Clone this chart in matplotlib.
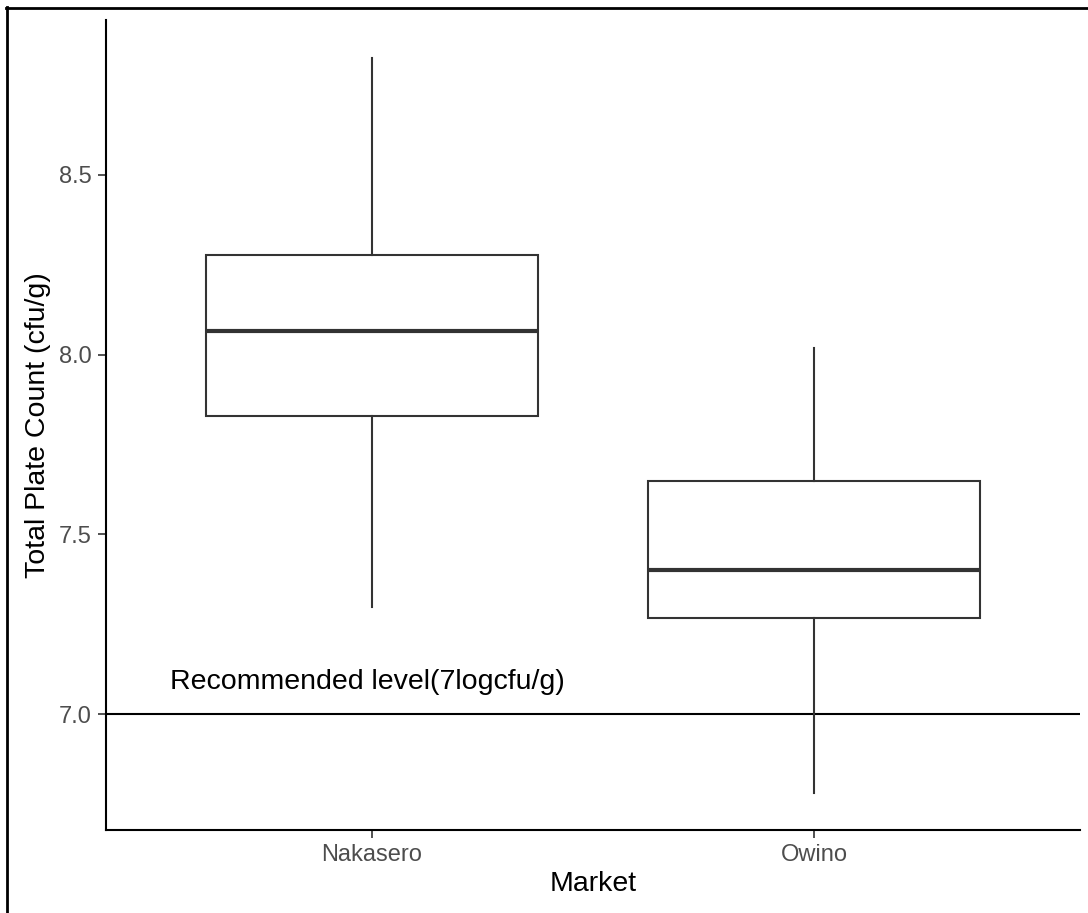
import matplotlib.pyplot as plt
from matplotlib.lines import Line2D

markets = ['Nakasero', 'Owino']
whisker_low = [7.297, 6.78]
q1 = [7.83, 7.267]
median = [8.064, 7.40]
q3 = [8.278, 7.647]
whisker_high = [8.825, 8.019]
recommended = 7.0

plt.rcParams['font.family'] = ['Liberation Sans', 'DejaVu Sans']

fig = plt.figure(figsize=(10.88, 9.13), dpi=100)
ax = fig.add_axes([106/1088, 1 - 830/913, (1080 - 106)/1088, (830 - 20)/913])

stats = []
for i, m in enumerate(markets):
    stats.append({'label': m, 'whislo': whisker_low[i], 'q1': q1[i], 'med': median[i],
                  'q3': q3[i], 'whishi': whisker_high[i], 'fliers': []})

ax.bxp(stats, positions=[1, 2], widths=0.75, showcaps=False, patch_artist=True,
       boxprops=dict(facecolor='white', edgecolor='#333333', linewidth=1.5),
       medianprops=dict(color='#333333', linewidth=3),
       whiskerprops=dict(color='#333333', linewidth=1.5))

ax.axhline(recommended, color='black', linewidth=1.5, zorder=0)
ax.text(0.544, 7.089, 'Recommended level(7logcfu/g)', fontsize=20.5,
        ha='left', va='center', color='black')

ax.set_xlim(0.4, 2.6)
ax.set_ylim(6.678, 8.93)
ax.set_yticks([7.0, 7.5, 8.0, 8.5])
ax.set_yticklabels(['7.0', '7.5', '8.0', '8.5'])
ax.set_xticks([1, 2])
ax.set_xticklabels(markets)

for s in ['top', 'right']:
    ax.spines[s].set_visible(False)
for s in ['left', 'bottom']:
    ax.spines[s].set_color('black')
    ax.spines[s].set_linewidth(1.5)
ax.tick_params(colors='#333333', labelcolor='#4D4D4D', labelsize=17, length=6, width=1.2, pad=4)

ax.set_xlabel('Market', fontsize=20.5, labelpad=4)
ax.set_ylabel('Total Plate Count (cfu/g)', fontsize=20.5, labelpad=6)

# cropped outer frame: only top and left edges visible
fig.add_artist(Line2D([6/1088, 1], [1 - 8/913, 1 - 8/913], transform=fig.transFigure,
                      color='black', linewidth=2))
fig.add_artist(Line2D([7/1088, 7/1088], [0, 1 - 7/913], transform=fig.transFigure,
                      color='black', linewidth=2))

fig.savefig('out.png', dpi=100)
